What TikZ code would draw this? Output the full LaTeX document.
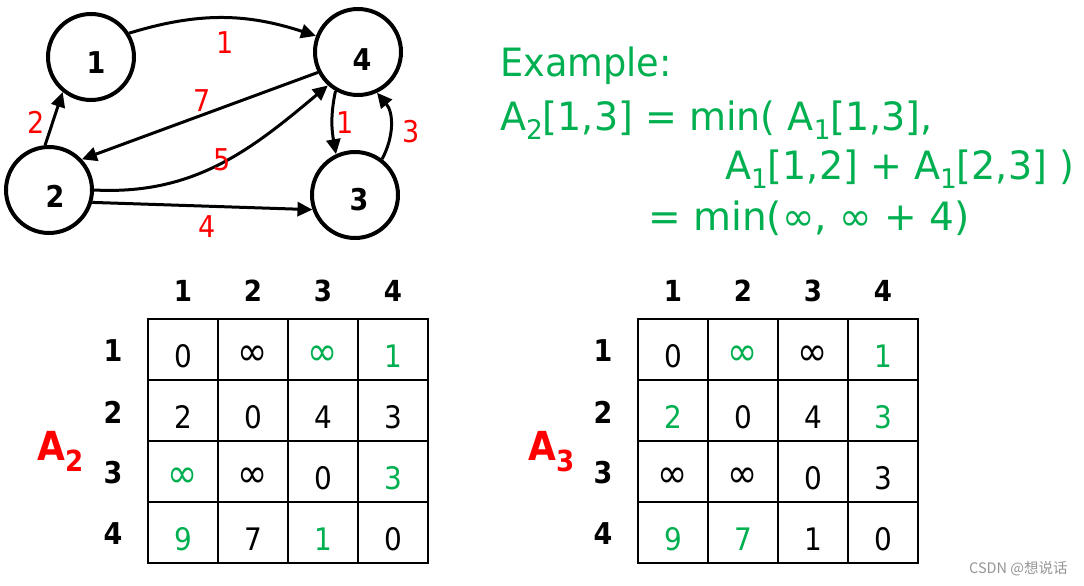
\documentclass[tikz,border=0pt]{standalone}
\usepackage{fontspec}
\setmainfont{DejaVu Sans}[FakeStretch=0.9]
\newfontfamily\exfont{DejaVu Sans}[FakeStretch=0.975]
\newfontfamily\exfourfont{DejaVu Sans}
\newfontfamily\exonefont{DejaVu Sans}[FakeStretch=0.94]
\newfontfamily\cjk{Noto Sans CJK SC}
\usetikzlibrary{arrows.meta}
\definecolor{pgreen}{RGB}{0,176,80}
\definecolor{pred}{RGB}{255,0,0}
\definecolor{wmgray}{RGB}{150,150,150}
\newcommand\fsz[1]{\fontsize{#1}{#1}\selectfont}
\newcommand\lsub[1]{\raisebox{-9pt}{\fsz{27}#1}}
\newcommand\myinf{\scalebox{1.3}{∞}}
\tikzset{
  vertex/.style={circle, draw, line width=4pt, minimum size=86pt, inner sep=0pt},
  vlab/.style={font=\fsz{30}\bfseries, inner sep=0pt},
  edge/.style={line width=3pt, -{Triangle[length=15pt,width=14pt]}},
  wlab/.style={text=pred, font=\fsz{30}, inner sep=0pt},
  cellbox/.style={draw, line width=2pt, minimum width=70pt, minimum height=61pt, inner sep=0pt},
  hdr/.style={font=\fsz{29}\bfseries, inner sep=0pt},
  rhdr/.style={font=\fsz{30}\bfseries, inner sep=0pt},
  val/.style={font=\fsz{31}, inner sep=0pt},
  ex/.style={text=pgreen, font=\exfont\fsz{39}, inner sep=0pt, anchor=base west},
  alab/.style={text=pred, font=\fsz{40}\bfseries, inner sep=0pt, anchor=base west}
}
\begin{document}
\begin{tikzpicture}[x=1pt,y=-1pt]
\useasboundingbox[fill=white] (0,0) rectangle (1084,586);
% graph
\node[vertex] (n1) at (91,57) {};
\node[vertex] (n4) at (358,52) {};
\node[vertex] (n2) at (49,190) {};
\node[vertex] (n3) at (355,195) {};
\node[vlab] (t1) at (96,63) {1};
\node[vlab] (t4) at (362,60) {4};
\node[vlab] (t2) at (55,196) {2};
\node[vlab] (t3) at (359,200) {3};
\draw[edge] (n1.32) to[out=17,in=162] (n4.159);
\draw[edge] (n2.95) -- (n1.231);
\draw[edge] (n4.207) -- (n2.43);
\draw[edge] (n2.0) to[out=-3,in=220] (n4.228);
\draw[edge] (n2.-16) -- (n3.199);
\draw[edge] (n4.240) to[out=258,in=100] (n3.115);
\draw[edge] (n3.53) to[out=62,in=-50] (n4.295);
\node[wlab] (w14) at (225,43) {1};
\node[wlab] (w21) at (36,122) {2};
\node[wlab] (w42) at (202,101) {7};
\node[wlab] (w24) at (222,160) {5};
\node[wlab] (w23) at (207,227) {4};
\node[wlab] (w43) at (345,123) {1};
\node[wlab] (w34) at (411,132) {3};
% example text
\node[ex, font=\exonefont\fsz{39}] (ex1) at (500,77) {Example:};
\node[ex] (ex2) at (500,130) {A\lsub{2}[1,3] = min( A\lsub{1}[1,3],};
\node[ex] (ex3) at (725,179) {A\lsub{1}[1,2] + A\lsub{1}[2,3] )};
\node[ex, font=\exfourfont\fsz{39}] (ex4) at (648,230) {= min(∞, ∞ + 4)};
% left table
\foreach \r/\c/\v/\col in {1/1/0/black,1/2/\myinf/black,1/3/\myinf/pgreen,1/4/1/pgreen,
  2/1/2/black,2/2/0/black,2/3/4/black,2/4/3/black,
  3/1/\myinf/pgreen,3/2/\myinf/black,3/3/0/black,3/4/3/pgreen,
  4/1/9/pgreen,4/2/7/black,4/3/1/pgreen,4/4/0/black}{
  \node[cellbox] (L\r\c) at ({113+70*\c},{288.5+61*\r}) {};
  \node[val, text=\col] (Lv\r\c) at ([yshift=-6.5pt]L\r\c.center) {\v};
}
\foreach \c in {1,2,3,4}{
  \node[hdr] (Lc\c) at ({113+70*\c},291) {\c};
  \node[rhdr] (Lr\c) at (113,{290+61*\c}) {\c};
}
\node[alab] (A2) at (37,460) {A\raisebox{-11pt}{\fsz{29}2}};
% right table
\foreach \r/\c/\v/\col in {1/1/0/black,1/2/\myinf/pgreen,1/3/\myinf/black,1/4/1/pgreen,
  2/1/2/pgreen,2/2/0/black,2/3/4/black,2/4/3/pgreen,
  3/1/\myinf/black,3/2/\myinf/black,3/3/0/black,3/4/3/black,
  4/1/9/pgreen,4/2/7/pgreen,4/3/1/black,4/4/0/black}{
  \node[cellbox] (R\r\c) at ({603+70*\c},{288.5+61*\r}) {};
  \node[val, text=\col] (Rv\r\c) at ([yshift=-6.5pt]R\r\c.center) {\v};
}
\foreach \c in {1,2,3,4}{
  \node[hdr] (Rc\c) at ({603+70*\c},291) {\c};
  \node[rhdr] (Rr\c) at (603,{290+61*\c}) {\c};
}
\node[alab] (A3) at (528,460) {A\raisebox{-11pt}{\fsz{29}3}};
% watermark
\node[text=wmgray, font=\cjk\fsz{14.5}, anchor=west, inner sep=0pt] (wm) at (969,569) {CSDN @想说话};
\end{tikzpicture}
\end{document}
